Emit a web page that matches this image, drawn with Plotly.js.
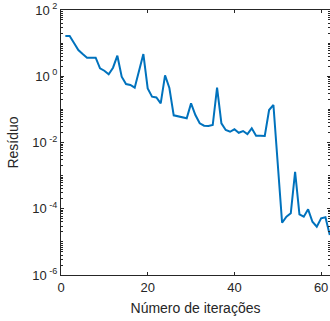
<!DOCTYPE html>
<html>
<head>
<meta charset="utf-8">
<script src="https://cdn.plot.ly/plotly-3.0.1.min.js"></script>
<style>html,body{margin:0;padding:0;background:#fff}#chart{width:330px;height:321px}</style>
</head>
<body>
<div id="chart"></div>
<script>
const iterations = [1,2,3,4,5,6,7,8,9,10,11,12,13,14,15,16,17,18,19,20,21,22,23,24,25,26,27,28,29,30,31,32,33,34,35,36,37,38,39,40,41,42,43,44,45,46,47,48,49,50,51,52,53,54,55,56,57,58,59,60,61,62];
const residuals = [16.4,16.4,10.1,6.19,4.69,3.63,3.63,3.63,1.74,1.47,1.15,1.81,4.17,0.968,0.583,0.545,0.451,1.44,4.69,0.427,0.241,0.228,0.152,1.07,0.442,0.0662,0.0608,0.0568,0.0537,0.152,0.0676,0.0379,0.0321,0.0315,0.0337,0.457,0.0379,0.0238,0.0211,0.0250,0.0197,0.0222,0.0180,0.0268,0.0160,0.0159,0.0157,0.0957,0.136,0.00224,3.78e-5,5.74e-5,7.28e-5,1.31e-3,6.79e-5,5.74e-5,9.62e-5,4.06e-5,2.86e-5,5.14e-5,5.51e-5,1.61e-5];
const yTickVals = [1e-6,1e-4,1e-2,1,1e2];
const yTickText = ['10<sup> -6</sup>','10<sup> -4</sup>','10<sup> -2</sup>','10<sup> 0</sup>','10<sup> 2</sup>'];
const xTickVals = [0,20,40,60];
const xTickText = ['0','20','40','60'];
const xTitle = 'Número de iterações';
const yTitle = 'Resíduo';

const axisColor = '#262626';
const font = {family: 'Liberation Sans, Arial, sans-serif', size: 11, color: axisColor};

Plotly.newPlot('chart', [{
  x: iterations, y: residuals, type: 'scatter', mode: 'lines',
  line: {color: '#0072BD', width: 2}, hoverinfo: 'skip'
}], {
  width: 330, height: 321,
  margin: {l: 61, r: 0, t: 10, b: 46, pad: 0},
  paper_bgcolor: '#fff', plot_bgcolor: '#fff',
  showlegend: false,
  font: font,
  xaxis: {
    range: [0, 62.05], tickmode: 'array', tickvals: xTickVals, ticktext: xTickText,
    ticks: 'inside', ticklen: 3, tickcolor: axisColor, showline: true, linecolor: axisColor, linewidth: 1,
    mirror: 'ticks', showgrid: false, zeroline: false,
    tickfont: {family: font.family, size: 13, color: axisColor},
    title: {text: xTitle, font: {family: font.family, size: 14, color: axisColor}, standoff: 9}
  },
  yaxis: {
    type: 'log', range: [-6, 2], tickmode: 'array', tickvals: yTickVals, ticktext: yTickText,
    ticks: 'inside', ticklen: 3, tickcolor: axisColor, showline: true, linecolor: axisColor, linewidth: 1,
    mirror: 'ticks', showgrid: false, zeroline: false,
    tickfont: {family: font.family, size: 13, color: axisColor},
    minor: {dtick: 'D1', ticks: 'inside', ticklen: 2, tickcolor: axisColor, showgrid: false},
    title: {text: yTitle, font: {family: font.family, size: 14, color: axisColor}, standoff: 10}
  }
}, {displayModeBar: false, staticPlot: true});
</script>
</body>
</html>
